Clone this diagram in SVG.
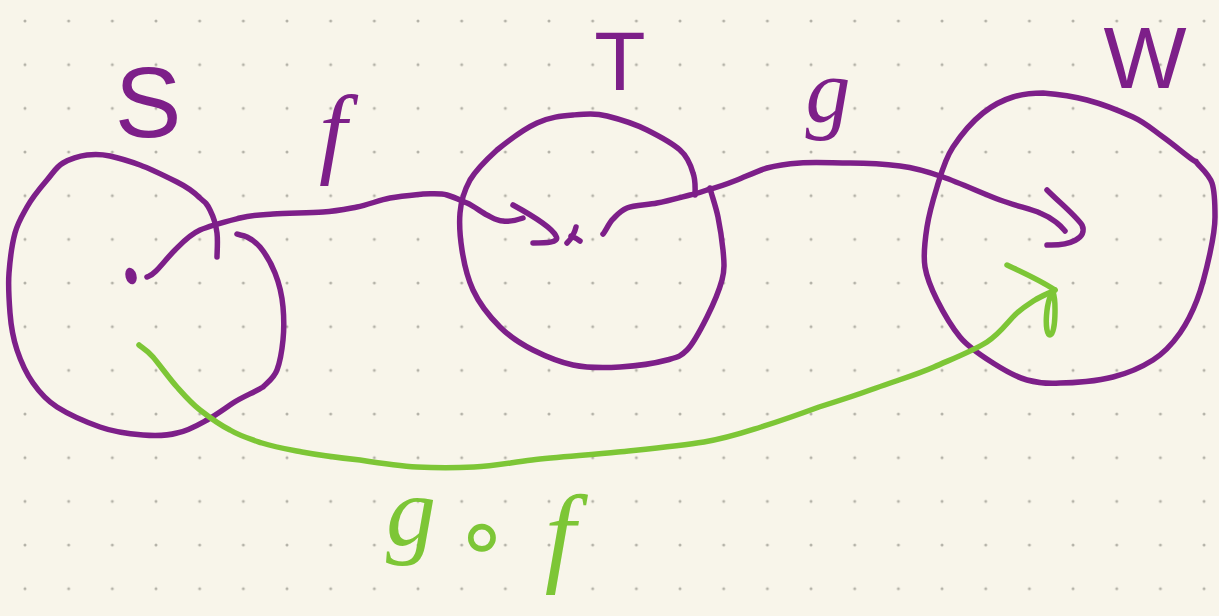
<svg xmlns="http://www.w3.org/2000/svg" width="1219" height="616" viewBox="0 0 1219 616">
<style>
.p{fill:none;stroke:#7d1f89;stroke-width:5.5;stroke-linecap:round;stroke-linejoin:round}
.g{fill:none;stroke:#7dc636;stroke-width:5.5;stroke-linecap:round;stroke-linejoin:round}
.lp{fill:#7d1f89;font-family:"Liberation Sans",Arial,sans-serif}
.lpi{fill:#7d1f89;font-family:"Liberation Serif","Times New Roman",serif;font-style:italic}
.lg{fill:#7dc636;font-family:"Liberation Serif","Times New Roman",serif;font-style:italic}
</style>
<defs>
<pattern id="dots" x="3.17" y="-0.83" width="43.67" height="43.67" patternUnits="userSpaceOnUse">
<circle cx="21.83" cy="21.83" r="1.5" fill="#b4b2a8"/>
</pattern>
</defs>
<rect width="1219" height="616" fill="#f8f5ea"/>
<rect width="1219" height="616" fill="url(#dots)"/>

<g id="node-S">
<path class="p" d="M217,257 C217,253 218,241 217,233 C216,225 213,216 210,210 C207,204 206,203 200,198 C195,193 187,187 177,182 C167,177 151,169 140,165 C129,161 119,158 110,156 C101,154 95,154 87,155 C79,156 70,159 63,163 C56,167 53,173 47,180 C41,187 32,198 27,207 C22,216 18,222 15,233 C12,244 10,260 9,273 C8,286 9,300 10,313 C11,326 13,338 17,350 C21,362 26,373 33,383 C40,393 46,400 57,407 C68,414 86,422 100,427 C114,432 130,434 143,435 C156,436 166,436 177,433 C188,431 198,425 207,420 C216,415 224,409 233,403 C242,397 255,392 263,387 C268,382 274,378 277,370 C280,362 282,350 283,340 C284,330 284,318 283,307 C282,296 279,283 275,273 C271,263 265,253 260,247 C255,241 251,239 247,237 C243,235 239,235 237,234"/>
<ellipse cx="131" cy="276" rx="5.5" ry="8.5" transform="rotate(-15 131 276)" fill="#7d1f89"/>
<text class="lp" x="148" y="137" font-size="100" text-anchor="middle">S</text>
</g>

<g id="node-T">
<path class="p" d="M695,195 C695,191 696,181 693,173 C691,166 688,157 680,150 C672,143 659,136 647,130 C635,124 619,119 607,116 C595,113 585,114 573,115 C561,116 550,117 537,123 C524,129 508,141 497,150 C486,160 476,170 470,180 C464,191 461,201 460,213 C459,225 460,237 462,250 C464,263 467,277 473,290 C479,303 490,317 500,327 C510,337 521,344 533,350 C545,356 559,362 573,365 C588,368 604,368 620,367 C636,366 656,363 667,360 C678,357 680,357 687,350 C694,343 701,329 707,317 C713,305 719,291 722,280 C725,269 724,261 723,250 C722,240 720,227 718,217 C716,207 711,193 710,188"/>
<path class="p" d="M567,243 Q574,236 576,227 M571,236 Q576,238 580,241"/>
<text class="lp" x="620" y="90" font-size="84" text-anchor="middle">T</text>
</g>

<g id="node-W">
<path class="p" d="M1197,163 C1200,167 1209,174 1212,183 C1215,192 1215,205 1215,217 C1215,229 1213,239 1210,253 C1207,267 1202,287 1197,300 C1192,313 1187,323 1180,333 C1173,343 1164,353 1153,360 C1142,367 1129,373 1113,377 C1098,381 1074,383 1060,383 C1046,384 1038,383 1027,380 C1016,377 1004,370 993,363 C982,356 969,348 960,337 C951,326 943,312 937,300 C931,288 927,279 925,267 C923,255 925,240 927,227 C929,214 933,200 937,187 C941,174 945,159 953,147 C961,135 973,121 983,113 C993,105 1003,100 1013,97 C1023,94 1031,93 1043,93 C1055,94 1072,96 1087,100 C1102,104 1120,111 1133,117 C1146,123 1153,130 1163,137 C1173,144 1187,156 1193,160 C1199,164 1194,159 1197,163"/>
<text class="lp" x="1145" y="88" font-size="88" text-anchor="middle">W</text>
</g>

<g id="connectors">
<g id="edge-f">
<path class="p" d="M147,277 C149,276 151,276 156,271 C161,266 168,257 175,250 C182,243 189,235 200,230 C211,225 228,221 240,218 C252,215 259,215 273,214 C287,213 309,213 323,212 C337,211 346,209 357,207 C368,205 379,200 390,198 C401,196 413,195 423,194 C433,194 440,193 447,195 C454,197 460,200 467,203 C474,206 481,212 487,215 C493,218 497,221 503,221 C509,222 520,219 523,218"/>
<path class="p" d="M513,205 C535,217 552,228 556,236 C560,243 545,243 533,243"/>
<text class="lpi" x="333" y="165" font-size="100" text-anchor="middle">f</text>
</g>
<g id="edge-g">
<path class="p" d="M603,234 C605,232 609,223 613,219 C617,215 620,211 627,208 C634,205 647,205 657,203 C668,201 682,197 690,195 C698,193 699,193 707,190 C715,188 727,184 737,180 C747,176 757,171 767,168 C778,165 786,164 800,163 C814,162 833,163 850,163 C867,163 885,164 900,166 C916,168 926,171 943,177 C960,183 984,194 1000,200 C1016,206 1031,209 1040,213 C1050,217 1053,220 1057,223 C1061,226 1064,230 1065,231"/>
<path class="p" d="M1047,190 C1060,203 1075,215 1082,225 C1088,238 1070,246 1047,245"/>
<text class="lpi" x="828" y="122" font-size="90" text-anchor="middle">g</text>
</g>
<g id="edge-gof">
<path class="g" d="M139,345 C141,347 147,350 153,357 C159,364 169,378 177,387 C185,396 191,403 200,410 C209,417 220,425 230,430 C240,436 250,439 262,443 C274,447 286,449 302,452 C318,455 341,458 360,460 C379,463 398,466 417,467 C436,468 455,468 474,467 C493,466 508,463 532,460 C556,457 589,455 618,452 C647,449 680,446 704,442 C728,438 742,433 761,427 C780,421 800,414 819,407 C838,401 857,395 876,388 C895,381 916,375 934,367 C952,359 973,351 987,342 C1001,333 1009,320 1017,313 C1025,306 1029,304 1035,300 C1041,296 1052,292 1055,290"/>
<path class="g" d="M1007,265 C1020,271 1040,280 1055,290 C1045,298 1044,335 1050,335 C1056,335 1056,300 1053,292"/>
<text class="lg" font-size="100"><tspan x="386" y="545">g</tspan><tspan x="482" y="566" font-family="DejaVu Sans,sans-serif" font-style="normal" font-size="90" text-anchor="middle">∘</tspan><tspan x="560" y="572" font-size="110" text-anchor="middle">f</tspan></text>
</g>
</g>
</svg>
